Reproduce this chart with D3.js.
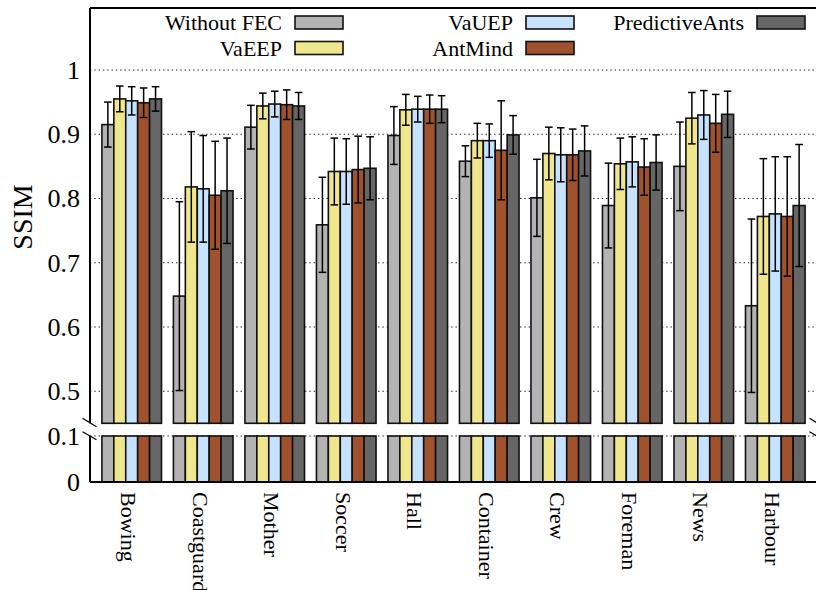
<!DOCTYPE html>
<html>
<head>
<meta charset="utf-8">
<script src="https://cdn.jsdelivr.net/npm/d3@7"></script>
<style>
  html, body { margin: 0; padding: 0; background: #fff; }
  svg { display: block; }
  text { font-family: "Liberation Serif", "Times New Roman", serif; fill: #000; }
</style>
</head>
<body>
<svg id="chart" width="816" height="590"></svg>
<script>
// Video sequences on the x axis
const categories = ["Bowing", "Coastguard", "Mother", "Soccer", "Hall",
                    "Container", "Crew", "Foreman", "News", "Harbour"];
const seriesNames = ["Without FEC", "VaEEP", "VaUEP", "AntMind", "PredictiveAnts"];

// Mean SSIM per sequence
const withoutFec     = [0.915, 0.648, 0.911, 0.759, 0.898, 0.858, 0.801, 0.789, 0.850, 0.633];
const vaEEP          = [0.955, 0.818, 0.944, 0.842, 0.938, 0.890, 0.870, 0.854, 0.925, 0.772];
const vaUEP          = [0.952, 0.815, 0.947, 0.842, 0.939, 0.890, 0.868, 0.857, 0.930, 0.776];
const antMind        = [0.949, 0.805, 0.946, 0.845, 0.939, 0.875, 0.868, 0.849, 0.917, 0.772];
const predictiveAnts = [0.955, 0.812, 0.944, 0.847, 0.939, 0.899, 0.874, 0.856, 0.931, 0.789];

// Error bar half-widths (standard deviation)
const withoutFecErr     = [0.035, 0.147, 0.034, 0.074, 0.045, 0.024, 0.060, 0.066, 0.069, 0.135];
const vaEEPErr          = [0.020, 0.086, 0.020, 0.052, 0.024, 0.027, 0.041, 0.040, 0.040, 0.090];
const vaUEPErr          = [0.022, 0.083, 0.020, 0.051, 0.020, 0.026, 0.042, 0.039, 0.038, 0.089];
const antMindErr        = [0.023, 0.084, 0.023, 0.052, 0.022, 0.077, 0.040, 0.044, 0.045, 0.093];
const predictiveAntsErr = [0.019, 0.082, 0.021, 0.049, 0.021, 0.030, 0.039, 0.043, 0.036, 0.095];

const upperTicks = [0.5, 0.6, 0.7, 0.8, 0.9, 1];
const upperTickLabels = ["0.5", "0.6", "0.7", "0.8", "0.9", "1"];
const lowerTicks = [0, 0.1];
const lowerTickLabels = ["0", "0.1"];

const colors = ["#b3b3b3", "#f0e68c", "#c6e2ff", "#a0522d", "#666666"];

const means = [withoutFec, vaEEP, vaUEP, antMind, predictiveAnts];
const errs  = [withoutFecErr, vaEEPErr, vaUEPErr, antMindErr, predictiveAntsErr];

const rows = [];
categories.forEach((c, i) => {
  seriesNames.forEach((s, j) => {
    rows.push({ cat: c, series: s, idx: j, v: means[j][i], e: errs[j][i] });
  });
});

// Plot geometry
const plotLeft = 90, plotRight = 817, plotTop = 8;
const upperBottom = 423.3, lowerTop = 436, plotBottom = 482;

const svg = d3.select("#chart");

const x0 = d3.scaleBand().domain(categories).range([plotLeft, plotRight])
  .paddingInner(1 / 6).paddingOuter(1 / 6);
const x1 = d3.scaleBand().domain(seriesNames).range([0, x0.bandwidth()]);

// Broken y axis: upper segment 0.45..1, lower segment 0..0.1
const yUp = d3.scaleLinear().domain([0.45, 1]).range([upperBottom, 70]);
const yLo = d3.scaleLinear().domain([0, 0.1]).range([plotBottom, lowerTop]);

// Dotted grid lines
const grid = svg.append("g");
const gridLine = (y) => grid.append("line")
  .attr("x1", plotLeft).attr("x2", plotRight).attr("y1", y).attr("y2", y)
  .attr("stroke", "#222").attr("stroke-width", 1.1)
  .attr("stroke-dasharray", "1.4,2.9");
upperTicks.forEach(t => gridLine(yUp(t)));
gridLine(yLo(0.1));

// Tick labels
const tickG = svg.append("g").attr("font-size", 26).attr("text-anchor", "end");
upperTicks.forEach((t, i) => tickG.append("text")
  .attr("x", 80).attr("y", yUp(t)).attr("dy", "0.34em").text(upperTickLabels[i]));
lowerTicks.forEach((t, i) => tickG.append("text")
  .attr("x", 80).attr("y", yLo(t)).attr("dy", "0.34em").text(lowerTickLabels[i]));

// Bars: upper part from the break to the value, lower part from 0 to 0.1
const barG = svg.append("g");
const bx = d => x0(d.cat) + x1(d.series);
barG.selectAll("rect.up").data(rows).join("rect")
  .attr("class", "up")
  .attr("x", bx).attr("width", x1.bandwidth())
  .attr("y", d => yUp(d.v)).attr("height", d => yUp(0.45) - yUp(d.v))
  .attr("fill", d => colors[d.idx]).attr("stroke", "#111").attr("stroke-width", 1.6);
barG.selectAll("rect.lo").data(rows).join("rect")
  .attr("class", "lo")
  .attr("x", bx).attr("width", x1.bandwidth())
  .attr("y", yLo(0.1)).attr("height", yLo(0) - yLo(0.1))
  .attr("fill", d => colors[d.idx]).attr("stroke", "#111").attr("stroke-width", 1.6);

// Error bars
const errG = svg.append("g").attr("stroke", "#000").attr("stroke-width", 1.5);
const cap = 3.8;
rows.forEach(d => {
  const cx = bx(d) + x1.bandwidth() / 2;
  const y1 = yUp(d.v + d.e), y2 = yUp(d.v - d.e);
  errG.append("line").attr("x1", cx).attr("x2", cx).attr("y1", y1).attr("y2", y2);
  errG.append("line").attr("x1", cx - cap).attr("x2", cx + cap).attr("y1", y1).attr("y2", y1);
  errG.append("line").attr("x1", cx - cap).attr("x2", cx + cap).attr("y1", y2).attr("y2", y2);
});

// Frame and axis lines (the y axis is broken between the two segments)
const frame = svg.append("g").attr("stroke", "#000").attr("stroke-width", 2).attr("fill", "none");
frame.append("line").attr("x1", plotLeft).attr("x2", plotRight).attr("y1", plotTop).attr("y2", plotTop);
frame.append("line").attr("x1", plotLeft).attr("x2", plotRight).attr("y1", plotBottom).attr("y2", plotBottom);
[plotLeft, plotRight].forEach(x => {
  frame.append("line").attr("x1", x).attr("x2", x).attr("y1", plotTop).attr("y2", upperBottom);
  frame.append("line").attr("x1", x).attr("x2", x).attr("y1", lowerTop).attr("y2", plotBottom);
});

// Break marks
const brk = svg.append("g").attr("stroke", "#000").attr("stroke-width", 1.3);
[plotLeft, plotRight].forEach(x => {
  brk.append("line").attr("x1", x - 7.5).attr("y1", 418.3).attr("x2", x + 6.5).attr("y2", 426.7);
  brk.append("line").attr("x1", x - 7.5).attr("y1", 431.7).attr("x2", x + 6.5).attr("y2", 439.8);
});

// Category labels, rotated to read downwards
const xl = svg.append("g").attr("font-size", 22);
categories.forEach(c => {
  const cx = x0(c) + x0.bandwidth() / 2 - 10.5;
  xl.append("text")
    .attr("transform", `translate(${cx},492) rotate(90)`)
    .attr("text-anchor", "start")
    .text(c);
});

// Y axis title
svg.append("text")
  .attr("transform", "translate(22,217) rotate(-90)")
  .attr("text-anchor", "middle").attr("dy", "0.35em")
  .attr("font-size", 28).text("SSIM");

// Legend: three columns, two rows
const legend = svg.append("g").attr("font-size", 22);
const colX = [295, 526, 757];
const rowY = [22.5, 48];
seriesNames.forEach((s, j) => {
  const col = Math.floor(j / 2), row = j % 2;
  const sx = colX[col], sy = rowY[row];
  legend.append("rect")
    .attr("x", sx).attr("y", sy - 6.5).attr("width", 48).attr("height", 13)
    .attr("fill", colors[j]).attr("stroke", "#111").attr("stroke-width", 1.6);
  legend.append("text")
    .attr("x", sx - 13).attr("y", sy).attr("dy", "0.35em")
    .attr("text-anchor", "end").text(s);
});
</script>
</body>
</html>
